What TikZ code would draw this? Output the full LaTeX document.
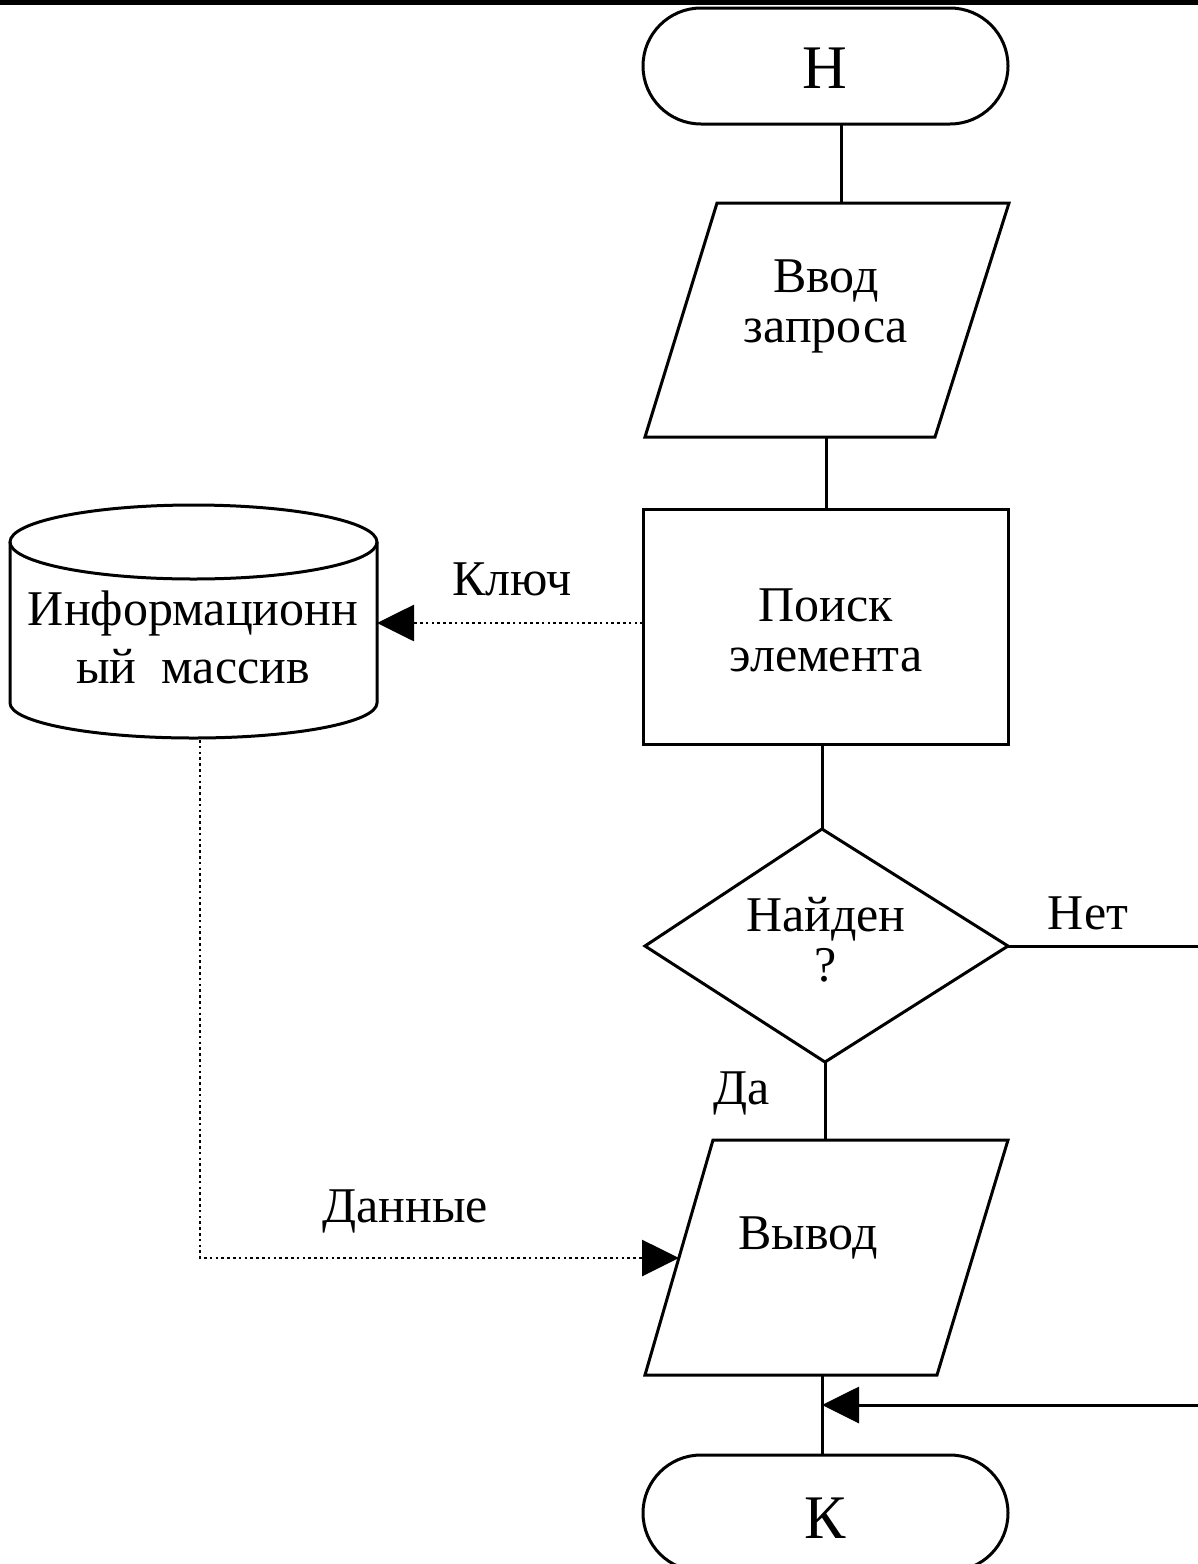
\documentclass[tikz,border=0pt]{standalone}
\usepackage{fontspec}
\setmainfont{Liberation Serif}
\usetikzlibrary{arrows.meta}
\begin{document}
\begin{tikzpicture}[x=1pt,y=-1pt,
  shapeline/.style={line width=3pt, line join=miter},
  conn/.style={line width=3pt},
  dotconn/.style={line width=2.8pt, dash pattern=on 2.6pt off 3.2pt},
  lbl/.style={font=\fontsize{50}{50}\selectfont, inner sep=0pt, align=center},
  dblbl/.style={font=\fontsize{50}{58}\selectfont, inner sep=0pt, align=center},
  big/.style={font=\fontsize{62}{62}\selectfont, inner sep=0pt},
  tip/.style={-{Triangle[length=37pt,width=36pt]}}
]
\useasboundingbox (0,0) rectangle (1198,1564);
\fill (0,0) rectangle (1198,5);

% start terminal
\draw[shapeline, rounded corners=58pt] (643,8) rectangle (1008,124);
\node[big] (start) at (825,68) {Н};
\coordinate (startB) at (841,124);

% input
\coordinate (in1T) at (841,203);
\draw[shapeline] (717,203) -- (1009,203) -- (935,437) -- (645,437) -- cycle;
\node[lbl] (in1) at (826,306) {Ввод\\запроса};
\coordinate (in1B) at (826,437);

% process
\coordinate (procT) at (826,509);
\draw[shapeline] (643,509) rectangle (1008,744);
\node[lbl] (proc) at (826,630) {Поиск\\элемента};
\coordinate (procB) at (822,744);
\coordinate (procL) at (643,623);

% decision
\coordinate (decT) at (822,829);
\coordinate (decR) at (1008,946);
\coordinate (decB) at (825,1062);
\draw[shapeline] (decT) -- (decR) -- (decB) -- (645,946) -- cycle;
\node[lbl] (dec) at (826,940) {Найден\\?};

% output
\coordinate (outT) at (825,1140);
\draw[shapeline] (713,1140) -- (1008,1140) -- (937,1375) -- (645,1375) -- cycle;
\node[lbl] (out) at (808,1238) {Вывод};
\coordinate (outL) at (679,1258);
\coordinate (outB) at (822,1375);

% end terminal
\coordinate (endT) at (822,1455);
\draw[shapeline, rounded corners=58pt] (643,1455) rectangle (1008,1571);
\node[big] (end) at (825,1518) {К};

% database cylinder
\draw[shapeline] (193.5,542) ellipse [x radius=183.5pt, y radius=37pt];
\draw[shapeline] (10,542) -- (10,703) arc[start angle=180, end angle=360, x radius=183.5pt, y radius=35pt] -- (377,542);
\node[dblbl] (db) at (193,637) {Информационн\\ый\ \ массив};
\coordinate (dbR) at (377,623);
\coordinate (dbB) at (200,740);

% right side connection
\coordinate (rTop) at (1205,946);
\coordinate (rBot) at (1205,1405);
\coordinate (mergeP) at (822,1405);

% connectors
\draw[conn] (startB) -- (in1T);
\draw[conn] (in1B) -- (procT);
\draw[conn] (procB) -- (decT);
\draw[conn] (decB) -- (outT);
\draw[conn] (outB) -- (endT);
\draw[conn] (decR) -- (rTop);
\draw[conn, tip] (rBot) -- (mergeP);

\draw[dotconn, tip] (procL) -- (dbR);
\draw[dotconn, tip] (dbB) |- (outL);

% labels
\node[lbl] (kluch) at (512,579) {Ключ};
\node[lbl] (net) at (1088,913) {Нет};
\node[lbl] (da) at (742,1093) {Да};
\node[lbl] (dannye) at (405,1211) {Данные};
\end{tikzpicture}
\end{document}
